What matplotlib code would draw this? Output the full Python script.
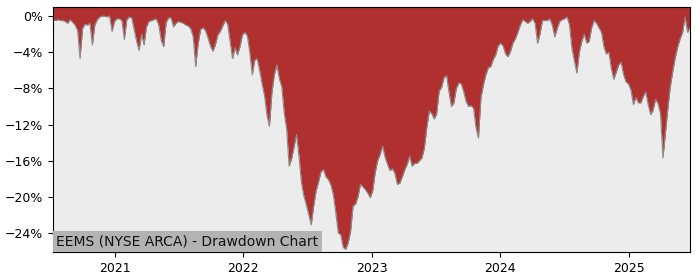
import matplotlib
matplotlib.use("Agg")
import matplotlib.pyplot as plt
import matplotlib.dates as mdates
from matplotlib.ticker import FuncFormatter
import pandas as pd

title = "EEMS (NYSE ARCA) - Drawdown Chart"
start_date = "2020-07-08"

# weekly drawdown values (%)
drawdown = [
    -0.4, -0.5, -0.4, -0.5, -0.5, -0.6, -0.8, -0.4, -0.7, -1.0,
    -1.6, -4.7, -1.4, -0.9, -1.0, -0.8, -3.2, -1.0, -0.4, -0.1,
    0.0, 0.0, -0.1, 0.0, -1.7, -0.6, -0.3, -0.3, -0.5, -2.6,
    -0.4, -0.1, -0.2, -1.5, -2.8, -3.8, -2.0, -3.2, -1.2, -0.6,
    -0.5, -0.4, -0.3, -1.0, -2.7, -3.4, -0.7, -0.2, -0.2, -1.2,
    -0.8, -0.6, -0.7, -0.8, -1.0, -1.1, -1.4, -2.3, -5.6, -3.1,
    -1.5, -1.3, -1.6, -2.4, -3.3, -3.9, -3.2, -2.1, -1.7, -1.1,
    -0.5, -0.9, -2.8, -4.7, -3.5, -4.3, -3.4, -2.1, -1.8, -2.2,
    -4.0, -6.5, -4.9, -4.7, -6.0, -7.5, -8.8, -11.0, -12.2, -8.5,
    -6.5, -5.4, -6.9, -7.8, -10.7, -12.5, -16.6, -15.8, -14.5, -13.1,
    -15.5, -18.4, -19.9, -20.9, -22.0, -23.1, -21.0, -19.3, -18.3, -17.2,
    -17.0, -17.8, -18.1, -18.7, -19.8, -21.8, -24.0, -24.2, -25.6, -25.8,
    -25.1, -23.8, -21.0, -20.8, -20.0, -18.6, -18.9, -19.2, -19.6, -20.1,
    -19.3, -17.3, -16.0, -15.3, -14.4, -15.6, -16.4, -17.1, -16.9, -17.4,
    -18.6, -18.5, -17.8, -17.0, -16.4, -15.5, -16.6, -16.3, -16.3, -16.0,
    -15.7, -14.6, -12.3, -10.5, -10.8, -11.4, -10.8, -8.3, -7.9, -6.8,
    -6.6, -8.4, -10.0, -9.6, -8.0, -7.4, -7.5, -8.4, -9.5, -10.0,
    -9.9, -10.2, -12.4, -13.5, -9.0, -7.6, -6.5, -5.7, -5.6, -4.8,
    -4.3, -3.3, -3.0, -3.3, -4.2, -4.5, -3.9, -3.0, -2.5, -1.8,
    -1.0, -0.4, -0.6, -0.8, -0.6, -0.3, -0.8, -3.0, -2.0, -0.5,
    -0.5, -0.5, -0.3, -1.0, -2.3, -1.4, -0.6, -0.4, -0.3, -0.1,
    -1.0, -3.6, -5.0, -6.3, -4.0, -2.8, -2.0, -3.0, -2.8, -1.3,
    -0.5, -0.8, -1.3, -1.8, -3.4, -4.2, -4.0, -5.8, -7.0, -6.2,
    -5.4, -5.1, -6.5, -7.3, -7.5, -8.2, -9.8, -9.0, -9.6, -9.6,
    -8.9, -8.4, -9.8, -10.9, -10.4, -9.2, -9.7, -10.8, -15.7, -13.0,
    -10.2, -7.8, -6.1, -4.6, -3.4, -2.5, -1.8, -0.1, -1.8, -1.3,
]
y_ticks = [0, -4, -8, -12, -16, -20, -24]
y_limits = (-26.1, 1.0)

dates = pd.date_range(start_date, periods=len(drawdown), freq="7D")

fig = plt.figure(figsize=(7, 2.8), dpi=100)
ax = fig.add_axes([0.0757, 0.1, 0.91, 0.875])
ax.set_facecolor("#ececec")

ax.fill_between(dates, drawdown, y_limits[1], color="#b03030", linewidth=0)
ax.plot(dates, drawdown, color="#8a8a8a", linewidth=0.8)

ax.set_xlim(dates[0], dates[-1])
ax.set_ylim(*y_limits)
ax.set_yticks(y_ticks)
ax.yaxis.set_major_formatter(FuncFormatter(lambda v, p: f"{v:.0f}%".replace("-", "\u2212")))
ax.xaxis.set_major_locator(mdates.YearLocator())
ax.xaxis.set_major_formatter(mdates.DateFormatter("%Y"))
ax.tick_params(labelsize=9)

ax.text(0.005, 0.013, title, transform=ax.transAxes, ha="left", va="bottom",
        fontsize=10, color="#111111",
        bbox=dict(facecolor="#b3b3b3", edgecolor="none", pad=2.5))

fig.savefig("out.png", dpi=100)
